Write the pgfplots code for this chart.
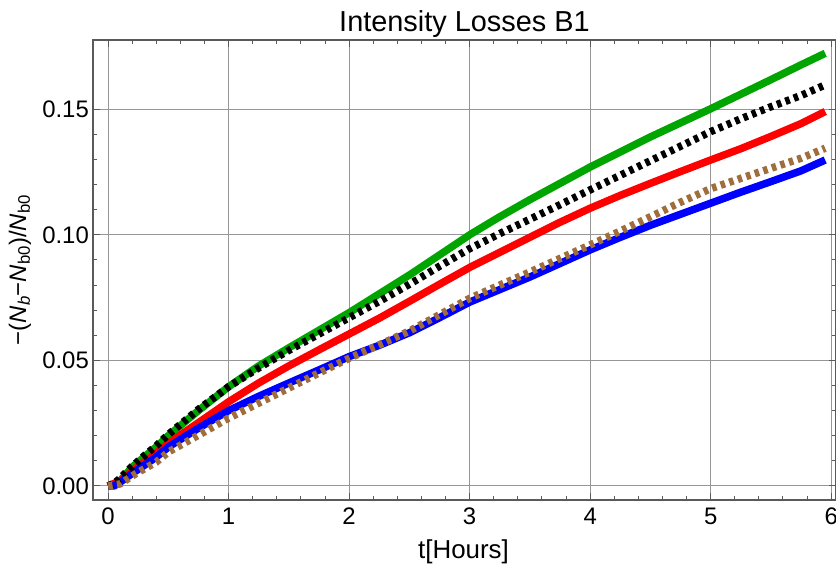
\documentclass[border=0pt]{standalone}
\usepackage{fontspec}
\setmainfont{Liberation Sans}
\usepackage{pgfplots}
\pgfplotsset{compat=1.18}
\definecolor{mgreen}{RGB}{0,165,0}
\definecolor{mbrown}{RGB}{160,110,60}
\definecolor{framec}{RGB}{90,90,90}
\definecolor{gridc}{RGB}{150,150,150}
\begin{document}
\begin{tikzpicture}
\begin{axis}[
  at={(93bp,65bp)}, anchor=south west,
  width=743bp, height=460bp, scale only axis,
  xmin=-0.125, xmax=6.04, ymin=-0.0056, ymax=0.1776,
  xtick={0,1,2,3,4,5,6}, ytick={0,0.05,0.10,0.15},
  minor x tick num=4, minor y tick num=4,
  tick align=inside, tick pos=both,
  major tick length=7bp, minor tick length=4bp,
  every tick/.style={framec, line width=1bp},
  axis line style={framec, line width=1.3bp},
  grid=major, major grid style={gridc, line width=1bp},
  /pgf/number format/assume math mode=true,
  tick label style={font=\fontsize{24}{24}\selectfont, text=black},
  xticklabel style={anchor=base, yshift=-24bp},
  yticklabel style={/pgf/number format/fixed, /pgf/number format/fixed zerofill,
    /pgf/number format/precision=2, anchor=east, inner sep=0pt, xshift=-4bp},
  every axis plot/.append style={line width=7.5bp, line cap=butt, line join=round},
]
\addplot[mgreen] coordinates {
(0,0) (0.05,0.0005) (0.1,0.002) (0.2,0.0075) (0.3,0.0115) (0.4,0.0155) (0.5,0.0200)
(0.75,0.0300) (1,0.0395) (1.25,0.0478) (1.5,0.0550) (1.75,0.0620) (2,0.0690)
(2.25,0.0765) (2.5,0.0840) (2.75,0.0920) (3,0.1000) (3.25,0.1072) (3.5,0.1140)
(3.75,0.1205) (4,0.1270) (4.25,0.1330) (4.5,0.1390) (4.75,0.1446) (5,0.1502)
(5.25,0.1560) (5.5,0.1618) (5.75,0.1677) (5.95,0.1723)};
\addplot[red] coordinates {
(0,0) (0.1,0.002) (0.2,0.0060) (0.3,0.0095) (0.4,0.0130) (0.5,0.0170)
(0.75,0.0252) (1,0.0335) (1.25,0.0410) (1.5,0.0478) (1.75,0.0542) (2,0.0605)
(2.25,0.0668) (2.5,0.0735) (2.75,0.0803) (3,0.0870) (3.25,0.0930) (3.5,0.0990)
(3.75,0.1050) (4,0.1106) (4.25,0.1157) (4.5,0.1205) (4.75,0.1252) (5,0.1298)
(5.25,0.1343) (5.5,0.1392) (5.75,0.1443) (5.95,0.1491)};
\addplot[blue] coordinates {
(0,0) (0.05,0) (0.1,0.0015) (0.2,0.0050) (0.3,0.0082) (0.4,0.0115) (0.5,0.0155)
(0.75,0.0230) (1,0.0300) (1.25,0.0357) (1.5,0.0410) (1.75,0.0462) (2,0.0515)
(2.25,0.0560) (2.5,0.0610) (2.75,0.0670) (3,0.0732) (3.25,0.0782) (3.5,0.0832)
(3.75,0.0886) (4,0.0940) (4.25,0.0990) (4.5,0.1038) (4.75,0.1082) (5,0.1126)
(5.25,0.1170) (5.5,0.1212) (5.75,0.1255) (5.95,0.1298)};
\addplot[black, dash pattern=on 4.5bp off 4.5bp] coordinates {
(0,0) (0.05,0.001) (0.1,0.003) (0.2,0.0078) (0.3,0.0120) (0.4,0.0160) (0.5,0.0205)
(0.75,0.0305) (1,0.0395) (1.25,0.0470) (1.5,0.0540) (1.75,0.0605) (2,0.0670)
(2.25,0.0735) (2.5,0.0803) (2.75,0.0875) (3,0.0945) (3.25,0.1005) (3.5,0.1062)
(3.75,0.1120) (4,0.1179) (4.25,0.1237) (4.5,0.1295) (4.75,0.1353) (5,0.1411)
(5.25,0.1462) (5.5,0.1510) (5.75,0.1555) (5.95,0.1597)};
\addplot[mbrown, dash pattern=on 4.5bp off 4.5bp] coordinates {
(0,0) (0.1,0.0008) (0.2,0.0040) (0.3,0.0068) (0.4,0.0095) (0.5,0.0135)
(0.75,0.0202) (1,0.0270) (1.25,0.0330) (1.5,0.0390) (1.75,0.0450) (2,0.0508)
(2.25,0.0562) (2.5,0.0617) (2.75,0.0682) (3,0.0747) (3.25,0.0800) (3.5,0.0852)
(3.75,0.0906) (4,0.0960) (4.25,0.1015) (4.5,0.1072) (4.75,0.1130) (5,0.1184)
(5.25,0.1225) (5.5,0.1265) (5.75,0.1305) (5.95,0.1345)};
\end{axis}
\node[anchor=base, font=\fontsize{29}{29}\selectfont] at (464.5bp,533bp) {Intensity Losses B1};
\node[anchor=base, font=\fontsize{26}{26}\selectfont] at (463.5bp,7bp) {t[Hours]};
\node[rotate=90, font=\fontsize{24}{24}\selectfont] at (20bp,295bp)
  {−(\textit{N}\textsubscript{\textit{b}}−\textit{N}\textsubscript{b0})/\textit{N}\textsubscript{b0}};
\pgfresetboundingbox
\path (0,0) rectangle (836bp,565bp);
\end{tikzpicture}
\end{document}
